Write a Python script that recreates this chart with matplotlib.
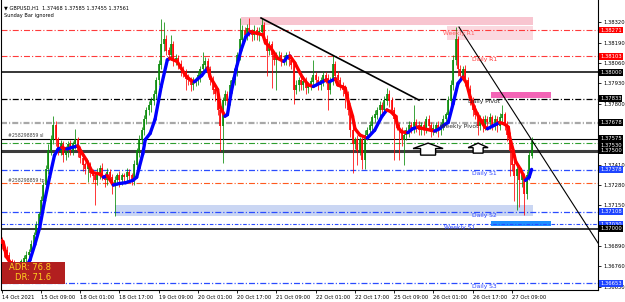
import numpy as np
import matplotlib
matplotlib.use('Agg')
import matplotlib.pyplot as plt
import matplotlib.transforms as mtransforms
from matplotlib.collections import LineCollection
from matplotlib.patches import Rectangle, Polygon

plt.rcParams['lines.scale_dashes'] = False
plt.rcParams['font.family'] = ['DejaVu Sans']

symbol = 'GBPUSD,H1'

# H1 closes, bar 0 = 14 Oct 17:00
first_open = 1.3693
closes = [
    1.3690, 1.3686, 1.3683, 1.3679, 1.3677, 1.3675, 1.3674, 1.3676, 1.3679, 1.3681,
    1.3683, 1.3685, 1.3690, 1.3696, 1.3702, 1.3709, 1.3718, 1.3728, 1.3738, 1.3750,
    1.3757, 1.3766, 1.3757, 1.3750, 1.3754, 1.3747, 1.3750, 1.3754, 1.3750, 1.3754,
    1.3757, 1.3750, 1.3745, 1.3741, 1.3738, 1.3741, 1.3736, 1.3734, 1.3731, 1.3736,
    1.3739, 1.3734, 1.3731, 1.3736, 1.3733, 1.3728, 1.3731, 1.3734, 1.3731, 1.3734,
    1.3733, 1.3736, 1.3734, 1.3731, 1.3741, 1.3750, 1.3757, 1.3763, 1.3770, 1.3776,
    1.3779, 1.3782, 1.3786, 1.3795, 1.3805, 1.3818, 1.3821, 1.3814, 1.3811, 1.3818,
    1.3808, 1.3809, 1.3805, 1.3802, 1.3800, 1.3796, 1.3795, 1.3792, 1.3794, 1.3795,
    1.3798, 1.3802, 1.3805, 1.3807, 1.3802, 1.3795, 1.3789, 1.3786, 1.3776, 1.3766,
    1.3782, 1.3786, 1.3782, 1.3792, 1.3795, 1.3802, 1.3811, 1.3821, 1.3827, 1.3824,
    1.3828, 1.3826, 1.3824, 1.3827, 1.3824, 1.3826, 1.3830, 1.3821, 1.3814, 1.3818,
    1.3811, 1.3808, 1.3811, 1.3811, 1.3808, 1.3808, 1.3811, 1.3808, 1.3805, 1.3789,
    1.3792, 1.3795, 1.3792, 1.3794, 1.3790, 1.3792, 1.3794, 1.3798, 1.3795, 1.3792,
    1.3795, 1.3798, 1.3796, 1.3789, 1.3795, 1.3805, 1.3798, 1.3795, 1.3792, 1.3789,
    1.3786, 1.3776, 1.3763, 1.3754, 1.3757, 1.3750, 1.3757, 1.3744, 1.3760, 1.3763,
    1.3766, 1.3771, 1.3773, 1.3776, 1.3779, 1.3776, 1.3782, 1.3786, 1.3782, 1.3776,
    1.3770, 1.3766, 1.3763, 1.3757, 1.3760, 1.3763, 1.3766, 1.3764, 1.3768, 1.3766,
    1.3763, 1.3766, 1.3764, 1.3770, 1.3766, 1.3763, 1.3764, 1.3766, 1.3763, 1.3766,
    1.3770, 1.3773, 1.3782, 1.3792, 1.3808, 1.3821, 1.3802, 1.3798, 1.3802, 1.3795,
    1.3789, 1.3782, 1.3776, 1.3773, 1.3766, 1.3770, 1.3766, 1.3770, 1.3768, 1.3771,
    1.3766, 1.3770, 1.3766, 1.3771, 1.3773, 1.3766, 1.3760, 1.3750, 1.3741, 1.3734,
    1.3738, 1.3731, 1.3734, 1.3722, 1.3734, 1.37468, 1.37561,
]
upper_wick_pips = [
    2, 2, 3, 2, 2, 3, 2, 3, 2, 2, 3, 2, 3, 2, 3, 2, 3, 2, 3, 4,
    3, 6, 3, 2, 3, 2, 3, 2, 3, 2, 7, 2, 3, 2, 2, 3, 2, 2, 2, 3,
    2, 3, 2, 3, 2, 2, 3, 2, 3, 2, 2, 3, 2, 2, 3, 2, 3, 2, 3, 2,
    3, 2, 3, 2, 3, 16, 11, 3, 2, 6, 2, 3, 2, 3, 2, 2, 3, 2, 3, 2,
    3, 2, 8, 3, 2, 2, 3, 2, 2, 3, 2, 3, 2, 3, 2, 3, 2, 14, 3, 2,
    3, 7, 2, 3, 2, 3, 5, 2, 3, 2, 2, 3, 2, 3, 2, 3, 2, 3, 2, 2,
    3, 2, 3, 2, 3, 2, 3, 10, 2, 3, 2, 3, 2, 3, 2, 6, 2, 3, 2, 2,
    3, 2, 2, 3, 2, 3, 2, 2, 3, 2, 3, 2, 3, 2, 3, 2, 3, 4, 3, 2,
    2, 3, 2, 2, 3, 2, 3, 2, 11, 2, 3, 2, 3, 2, 3, 2, 3, 2, 3, 2,
    3, 2, 3, 3, 3, 8, 2, 3, 2, 3, 2, 3, 2, 3, 2, 3, 2, 3, 2, 3,
    2, 3, 2, 3, 6, 2, 3, 2, 2, 3, 2, 3, 2, 2, 3, 3, 2.4,
]
lower_wick_pips = [
    3, 4, 3, 4, 3, 3, 4, 3, 3, 4, 3, 3, 4, 3, 3, 4, 3, 3, 4, 3,
    3, 3, 4, 3, 3, 4, 3, 4, 3, 3, 3, 4, 3, 4, 3, 8, 3, 4, 16, 3,
    4, 3, 4, 3, 3, 6, 20, 3, 4, 3, 3, 4, 3, 3, 3, 3, 4, 3, 3, 3,
    3, 4, 3, 3, 3, 3, 4, 3, 3, 3, 4, 3, 3, 4, 3, 7, 3, 4, 3, 3,
    3, 4, 3, 3, 4, 3, 3, 4, 3, 16, 24, 3, 4, 3, 3, 3, 4, 3, 3, 4,
    3, 3, 4, 3, 3, 4, 3, 3, 16, 3, 21, 3, 19, 3, 4, 3, 3, 4, 3, 9,
    3, 4, 3, 3, 4, 3, 3, 3, 4, 3, 3, 4, 3, 13, 3, 3, 4, 3, 3, 4,
    9, 3, 4, 18, 3, 9, 3, 6, 6, 3, 3, 4, 3, 3, 4, 3, 3, 3, 4, 3,
    26, 3, 19, 4, 16, 3, 4, 3, 3, 4, 3, 3, 4, 3, 3, 4, 3, 3, 4, 3,
    3, 3, 4, 3, 3, 3, 4, 3, 3, 4, 3, 3, 4, 3, 6, 3, 4, 3, 3, 4,
    3, 3, 4, 3, 3, 3, 4, 16, 4, 16, 22, 17, 4, 13, 3, 3, 1.3,
]

# smoothed moving average (bar, price)
ma_bars = [0.5, 2, 4.5, 7.5, 10, 11.5, 13.5, 15.5, 17.5, 19.5, 21.5, 23, 24.5, 26.5, 28.5,
           31, 32.5, 34.5, 37, 40, 41.5, 43, 45.5, 48, 50.5, 53.5, 55, 56, 57.5, 58.5,
           60.5, 62.5, 65, 67.5, 68.5, 71.5, 73, 75, 77, 78.5, 81.5, 84, 85, 88, 89,
           91, 92, 93.5, 95.5, 97.5, 99.5, 101.5, 104, 106.5, 107.5, 109.5, 112.5, 115,
           116.5, 117.5, 119.5, 122.5, 125, 127, 129.5, 132, 133.5, 136, 137, 140,
           141.5, 143, 144, 146, 149, 152, 155, 157, 158.5, 160.5, 161.5, 163, 165.5,
           167.5, 169.5, 172, 175, 176.5, 178.5, 180, 182, 184, 186, 188, 189.5, 191,
           193, 195, 197, 198, 200.5, 203, 205, 206.5, 207, 208.5, 209.5, 211.5, 213.5,
           215, 216]
ma_prices = [1.3692, 1.3682, 1.3676, 1.3674, 1.3676, 1.3680, 1.3690, 1.3701, 1.3718, 1.3733,
             1.3747, 1.3751, 1.3752, 1.3751, 1.3752, 1.3753, 1.3749, 1.3744, 1.3736, 1.3735,
             1.3733, 1.3734, 1.3728, 1.3729, 1.37295, 1.3731, 1.3733, 1.3739, 1.3748, 1.3757,
             1.3761, 1.3770, 1.3791, 1.3808, 1.3809, 1.3807, 1.3803, 1.3798, 1.3795, 1.3794,
             1.3798, 1.3803, 1.3797, 1.3789, 1.3778, 1.3772, 1.3773, 1.3787, 1.3802, 1.3814,
             1.3823, 1.3826, 1.3825, 1.3824, 1.3819, 1.3816, 1.3809, 1.3807, 1.3810, 1.38105,
             1.3806, 1.3797, 1.3792, 1.3791, 1.3793, 1.3795, 1.3794, 1.3796, 1.3792, 1.3790,
             1.3780, 1.3772, 1.3764, 1.3760, 1.3758, 1.3763, 1.3772, 1.3776, 1.3775, 1.3772,
             1.3765, 1.3762, 1.37615, 1.3764, 1.3765, 1.3764, 1.3763, 1.37625, 1.3764, 1.3766,
             1.3768, 1.3780, 1.3793, 1.3797, 1.3793, 1.3784, 1.3776, 1.3770, 1.3765, 1.3764,
             1.3766, 1.3768, 1.3767, 1.3765, 1.3759, 1.3750, 1.3743, 1.3738, 1.3731, 1.3733,
             1.3738]

time_tick_bars = [0, 16, 32, 48, 64, 80, 96, 112, 128, 144, 160, 176, 192, 208]
time_tick_labels = ['14 Oct 2021', '15 Oct 09:00', '18 Oct 01:00', '18 Oct 17:00',
                    '19 Oct 09:00', '20 Oct 01:00', '20 Oct 17:00', '21 Oct 09:00',
                    '22 Oct 01:00', '22 Oct 17:00', '25 Oct 09:00', '26 Oct 01:00',
                    '26 Oct 17:00', '27 Oct 09:00']
price_ticks = [1.38320, 1.38190, 1.38060, 1.37930, 1.37800, 1.37670, 1.37540,
               1.37410, 1.37280, 1.37150, 1.37020, 1.36890, 1.36760, 1.36630]
# these scale labels sit under the price boxes, so only the tick is seen
price_ticks_hidden = [1.37670, 1.37540, 1.37020]

# horizontal levels
level_prices = [1.38271, 1.38103, 1.38000, 1.37833, 1.37678, 1.37575, 1.37550,
                1.37500, 1.37378, 1.37290, 1.37108, 1.37030, 1.37000, 1.36653]
level_colors = ['#ff3b3b', '#ff3b3b', 'black', 'black', '#a8a8a8', 'black', '#2e9e2e',
                '#3c3c3c', '#2a4cff', '#ff5a1e', '#2a4cff', '#2a4cff', 'black', '#2a4cff']
dd = (0, (4.3, 1.5, 0.8, 1.5))
dd_short = (0, (2.6, 1.3, 0.8, 1.3))
level_styles = [dd, dd, '-', dd, dd, '-', dd, '-', dd, dd, dd, dd_short, '-', dd]
level_widths = [0.8, 0.8, 1.1, 0.9, 1.6, 0.8, 0.8, 2.2, 0.9, 0.8, 0.9, 0.8, 1.1, 0.9]

pivot_names = ['Weekly R1', 'Daily R1', 'Daily Pivot', 'Weekly Pivot',
               'Daily S1', 'Daily S2', 'Weekly S1', 'Daily S3']
pivot_prices = [1.38271, 1.38103, 1.37833, 1.37678, 1.37378, 1.37108, 1.37030, 1.36653]
pivot_label_bars = [179.9, 191.7, 190.2, 178.7, 191.7, 191.7, 180.3, 191.7]
pivot_text_colors = ['#ff5c5c', '#ff3030', '#202020', '#303030',
                     '#2a44ff', '#2a44ff', '#2a44ff', '#2a44ff']

# price boxes on the right scale
box_prices = [1.38271, 1.38103, 1.38000, 1.37833, 1.37678, 1.37530, 1.37575, 1.37500,
              1.37378, 1.37108, 1.37030, 1.37000, 1.36653]
box_colors = ['#ff0000', '#ff0000', 'black', 'black', 'black', 'black', 'black', 'black',
              '#1f45ff', '#1f45ff', '#1f45ff', 'black', '#1f45ff']

# zones: start bar, end bar, low, high
zone_x0 = [97.5, 181.5, 46.2, 199.5, 199.5]
zone_x1 = [216.6, 216.6, 216.6, 223.9, 223.9]
zone_lo = [1.38303, 1.38207, 1.37082, 1.37836, 1.37018]
zone_hi = [1.38354, 1.38297, 1.37152, 1.37875, 1.37050]
zone_colors = ['#f8c5d0', '#fbd8df', '#cad6f3', '#f364b6', '#1e8fff']

# trend lines
trend_bars = [(105.7, 170.1), (186.4, 243.1)]
trend_prices = [(1.38348, 1.37823), (1.38290, 1.36909)]
trend_widths = [1.2, 0.8]

# order labels
order_names = ['#258298859 sl', '#258298859 tp']
order_prices = [1.37575, 1.37290]

arrow_bars = [173.8, 194.2]
arrow_prices = [1.37548, 1.37548]
arrow_sizes = [(30, 12), (20, 10)]  # pixels

adr = 76.8
dr = 71.6

opens = [first_open] + closes[:-1]
o = np.array(opens)
c = np.array(closes)
hi = np.maximum(o, c) + np.array(upper_wick_pips) * 0.0001
lo = np.minimum(o, c) - np.array(lower_wick_pips) * 0.0001
x = np.arange(len(c))

fig = plt.figure(figsize=(6.25, 3.02), dpi=100)
ax = fig.add_axes([1.5 / 625, 12 / 302, 596.5 / 625, 290 / 302])
ax.set_xlim(-0.1, 243.07)
ax.set_ylim(1.36609, 1.38463)

for x0, x1, l, h, col in zip(zone_x0, zone_x1, zone_lo, zone_hi, zone_colors):
    ax.add_patch(Rectangle((x0, l), x1 - x0, h - l, fc=col, ec='none', zorder=1))

for p, col, ls, w in zip(level_prices, level_colors, level_styles, level_widths):
    ax.axhline(p, color=col, ls=ls, lw=w, zorder=2)

cols = np.where(c >= o, '#078a07', '#ff0000')
ax.vlines(x, lo, hi, colors=cols, lw=0.55, zorder=3)
ax.vlines(x, np.minimum(o, c), np.maximum(o, c) + 0.00002, colors=cols, lw=1.2, zorder=3)

pts = np.column_stack([ma_bars, ma_prices])
segs = np.stack([pts[:-1], pts[1:]], axis=1)
seg_cols = ['#0000ff' if b > a else '#ff0000' for a, b in zip(ma_prices[:-1], ma_prices[1:])]
ax.add_collection(LineCollection(segs, colors=seg_cols, linewidths=2.4,
                                 capstyle='round', joinstyle='round', zorder=4))

for (b0, b1), (p0, p1), w in zip(trend_bars, trend_prices, trend_widths):
    ax.plot([b0, b1], [p0, p1], color='black', lw=w, zorder=5)

for b, p, (w, h) in zip(arrow_bars, arrow_prices, arrow_sizes):
    hh = h * 0.45
    sw = w * 0.5
    verts = np.array([[-w / 2, -hh], [0, 0], [w / 2, -hh], [sw / 2, -hh],
                      [sw / 2, -h], [-sw / 2, -h], [-sw / 2, -hh]]) / 100.0
    tr = fig.dpi_scale_trans + mtransforms.ScaledTranslation(b, p, ax.transData)
    ax.add_patch(Polygon(verts, closed=True, transform=tr, fc='white', ec='black',
                         lw=1.0, zorder=6))

for name, p, b, col in zip(pivot_names, pivot_prices, pivot_label_bars, pivot_text_colors):
    ax.annotate(name, (b, p), xytext=(0, -0.6), textcoords='offset points',
                fontsize=4.3, color=col, va='top', ha='left', zorder=7)

for name, p in zip(order_names, order_prices):
    ax.annotate(name, (2.5, p), xytext=(0, 0.3), textcoords='offset points',
                fontsize=3.3, color='#404040', va='bottom', ha='left', zorder=7)

ax.spines['top'].set_visible(False)
for s in ['left', 'right', 'bottom']:
    ax.spines[s].set_linewidth(0.8)
    ax.spines[s].set_color('black')

ax.yaxis.tick_right()
ax.set_yticks(price_ticks)
ax.set_yticklabels(['' if t in price_ticks_hidden else '%.5f' % t for t in price_ticks])
ax.tick_params(axis='y', direction='out', length=2.5, width=0.6, pad=1.2,
               labelsize=3.8, right=True, left=False)
ax.set_xticks(time_tick_bars)
ax.set_xticklabels(time_tick_labels)
for lbl in ax.get_xticklabels():
    lbl.set_ha('left')
ax.tick_params(axis='x', direction='out', length=2.5, width=0.6, pad=1.0, labelsize=3.8)

side = mtransforms.blended_transform_factory(ax.transAxes, ax.transData)
for p, col in zip(box_prices, box_colors):
    ax.text(1.0 + 2.0 / 596.5, p, '%.5f' % p, transform=side, fontsize=3.8, color='white',
            ha='left', va='center', clip_on=False, zorder=8,
            bbox=dict(boxstyle='square,pad=0.18', fc=col, ec='none'))

fig.text(4 / 625, 1 - 8 / 302,
         '\u25bc %s  %.5f %.5f %.5f %.5f' % (symbol, opens[-1], hi[-1], lo[-1], closes[-1]),
         fontsize=3.6, va='center', ha='left')
fig.text(4 / 625, 1 - 16 / 302, 'Sunday Bar ignored', fontsize=3.6, va='center', ha='left')

fig.add_artist(Rectangle((2 / 625, 18 / 302), 63 / 625, 22 / 302, transform=fig.transFigure,
                         fc='#b21f1f', ec='none', zorder=9))
fig.text(51 / 625, 1 - 267 / 302, 'ADR: %.1f' % adr, fontsize=6, color='#ffd21f',
         ha='right', va='center', zorder=10)
fig.text(51 / 625, 1 - 278 / 302, 'DR: %.1f' % dr, fontsize=6, color='#ffd21f',
         ha='right', va='center', zorder=10)

fig.savefig('out.png', dpi=100)
